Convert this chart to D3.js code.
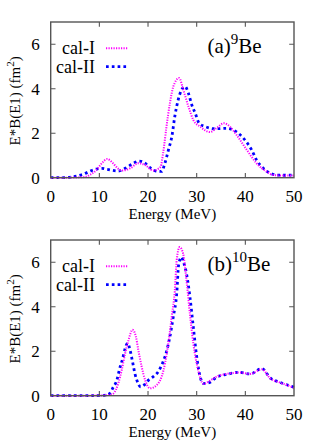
<!DOCTYPE html>
<html>
<head>
<meta charset="utf-8">
<script src="https://cdn.jsdelivr.net/npm/d3@7"></script>
</head>
<body style="margin:0">
<script>
// ----- data (energy in MeV, E*B(E1) in fm^2) -----
const xTicks = [0, 10, 20, 30, 40, 50];
const yTicks = [0, 2, 4, 6];
const seriesNames = ["cal-I", "cal-II"];

// panel (a) 9Be
const be9CalI = [
  [0, 0], [3, 0], [5, 0.01], [7, 0.03], [8, 0.12], [9.4, 0.35], [10.5, 0.65], [11.6, 0.84],
  [12.8, 0.65], [13.8, 0.42], [14.6, 0.32], [16.3, 0.42], [18, 0.65], [19.4, 0.57],
  [21.1, 0.32], [22.1, 0.4], [22.6, 0.5], [23.1, 1.1], [23.8, 2.3], [24.5, 3.35],
  [25.2, 4.1], [26.4, 4.48], [27.25, 3.95], [28.3, 3.2], [29.3, 2.6], [30.7, 2.3],
  [32.7, 2.05], [34.2, 2.25], [35.6, 2.45], [36.8, 2.3], [38.2, 1.92], [40.3, 1.25],
  [42.3, 0.65], [44.4, 0.27], [45.7, 0.12], [47.5, 0.1], [50, 0.1]
];
const be9CalII = [
  [0, 0], [2.6, 0], [5, 0.06], [6.7, 0.16], [8.4, 0.32], [9.6, 0.4], [10.5, 0.42],
  [11.6, 0.38], [13.9, 0.3], [15.3, 0.42], [17, 0.65], [18.1, 0.75], [19.4, 0.65],
  [20.4, 0.45], [21.6, 0.3], [22.8, 0.28], [23.4, 0.6], [24.2, 1.25], [24.9, 1.85],
  [25.5, 2.75], [26.2, 3.5], [26.9, 3.95], [27.6, 4.1], [28.3, 3.8], [29, 3.27],
  [29.7, 2.9], [30.5, 2.45], [31.7, 2.3], [33.8, 2.2], [36.2, 2.22], [38.1, 2.07],
  [39.9, 1.7], [41.3, 1.25], [42.3, 0.8], [43.7, 0.42], [45.1, 0.2], [46.5, 0.12],
  [48, 0.11], [50, 0.12]
];

// panel (b) 10Be
const be10CalI = [
  [0, 0], [6, 0], [10, 0.01], [12, 0.03], [12.9, 0.1], [13.9, 0.56], [14.6, 1.16],
  [15.3, 1.9], [16, 2.5], [16.8, 2.96], [17.5, 2.66], [18, 2.06], [18.7, 1.3],
  [19.4, 0.7], [20.4, 0.33], [21.8, 0.48], [22.8, 0.86], [23.5, 1.46], [24.2, 2.4],
  [24.9, 3.6], [25.5, 4.7], [25.9, 6.1], [26.5, 6.68], [27.2, 6.4], [27.9, 5.2],
  [28.6, 3.7], [29.3, 2.36], [30.3, 1.16], [31.4, 0.53], [32.4, 0.63], [34.1, 0.86],
  [36.2, 0.98], [38.9, 1.04], [41, 0.98], [43.4, 1.19], [45.1, 0.78], [47.1, 0.59],
  [49.5, 0.4], [50, 0.35]
];
const be10CalII = [
  [0, 0], [6, 0], [10, 0.01], [11.8, 0.05], [12.9, 0.4], [13.6, 0.7], [14.1, 1.16],
  [14.8, 1.68], [15.3, 2.13], [15.8, 2.36], [16.3, 2.06], [16.8, 1.55], [17.3, 1.0],
  [17.7, 0.7], [18.5, 0.4], [19.3, 0.5], [20.1, 0.7], [21.1, 0.86], [22.1, 1.08],
  [23.1, 1.53], [23.8, 1.98], [24.5, 2.66], [25.2, 3.56], [25.9, 4.6], [26.3, 5.9],
  [26.9, 6.23], [27.3, 6.0], [27.9, 5.5], [28.6, 4.46], [29.3, 3.1], [30, 1.76],
  [30.7, 0.86], [31.4, 0.55], [32.7, 0.6], [34.1, 0.84], [36.2, 0.96], [38.7, 1.05],
  [41, 0.98], [43.4, 1.22], [45.1, 0.8], [47.1, 0.6], [49.5, 0.42], [50, 0.38]
];

// ----- layout -----
const W = 327, H = 447;
const left = 50.7, plotW = 243.3, plotH = 155.7;
const FRAME = "#555555";
const COLORS = ["#ff00ff", "#0000ff"];
const FONT = "Liberation Serif";

const svg = d3.select("body").append("svg")
  .attr("width", W).attr("height", H);

const x = d3.scaleLinear().domain([0, 50]).range([0, plotW]);
const y = d3.scaleLinear().domain([0, 7]).range([plotH, 0]);

const line = d3.line()
  .x(d => x(d[0]))
  .y(d => y(d[1]))
  .curve(d3.curveMonotoneX);

// plain text helper, sizes kept whole
function label(sel, size) {
  return sel.style("font-family", FONT).style("font-size", size + "px");
}

function drawPanel(top, calI, calII, tag, mass) {
  const g = svg.append("g").attr("transform", `translate(${left},${top})`);

  // curves
  g.append("path").datum(calII)
    .attr("d", line).attr("fill", "none")
    .attr("stroke", COLORS[1]).attr("stroke-width", 2.8)
    .attr("stroke-dasharray", "2.7 3.1");
  g.append("path").datum(calI)
    .attr("d", line).attr("fill", "none")
    .attr("stroke", COLORS[0]).attr("stroke-width", 2)
    .attr("stroke-dasharray", "1.2 1.3");

  // inward ticks on all four sides
  const tk = 4.8;
  g.selectAll(".xt").data(xTicks.slice(1, -1)).enter().append("path")
    .attr("d", d => `M${x(d)},${plotH}v${-tk}M${x(d)},0v${tk}`)
    .attr("stroke", FRAME).attr("stroke-width", 1.1);
  g.selectAll(".yt").data(yTicks.slice(1)).enter().append("path")
    .attr("d", d => `M0,${y(d)}h${tk}M${plotW},${y(d)}h${-tk}`)
    .attr("stroke", FRAME).attr("stroke-width", 1.1);

  // frame
  g.append("rect")
    .attr("width", plotW).attr("height", plotH)
    .attr("fill", "none").attr("stroke", FRAME).attr("stroke-width", 1.4);

  // tick labels
  label(g.selectAll(".xl").data(xTicks).enter().append("text"), 17)
    .attr("x", d => x(d)).attr("y", plotH + 24.5)
    .attr("text-anchor", "middle")
    .text(d => d);
  label(g.selectAll(".yl").data(yTicks).enter().append("text"), 17)
    .attr("x", -11).attr("y", d => y(d) + 6)
    .attr("text-anchor", "end")
    .text(d => d);

  // axis titles
  label(g.append("text"), 15)
    .attr("x", plotW / 2).attr("y", plotH + 41.5)
    .attr("text-anchor", "middle")
    .text("Energy (MeV)");
  const yt = label(g.append("text"), 15)
    .attr("transform", `translate(${20 - left},${plotH / 2 + 1}) rotate(-90)`)
    .attr("text-anchor", "middle");
  yt.append("tspan").text("E*B(E1) (fm");
  label(yt.append("tspan"), 11).attr("dy", -6).text("2");
  yt.append("tspan").attr("dy", 6).text(")");

  // panel label
  const lab = label(g.append("text"), 21)
    .attr("x", 207.5 - left).attr("y", 30.5);
  lab.append("tspan").text(tag);
  label(lab.append("tspan"), 15).attr("dy", -9).text(mass);
  lab.append("tspan").attr("dy", 9).text("Be");

  // legend
  const leg = g.selectAll(".leg").data(seriesNames).enter().append("g")
    .attr("transform", (d, i) => `translate(0,${26.3 + i * 18.4})`);
  label(leg.append("text"), 18)
    .attr("x", 95 - left).attr("y", 6)
    .attr("text-anchor", "end")
    .text(d => d);
  leg.append("line")
    .attr("x1", 106 - left).attr("x2", 128 - left)
    .attr("stroke", (d, i) => COLORS[i])
    .attr("stroke-width", (d, i) => i ? 2.8 : 2)
    .attr("stroke-dasharray", (d, i) => i ? "2.7 3.1" : "1.2 1.3");
}

drawPanel(22, be9CalI, be9CalII, "(a)", "9");
drawPanel(240, be10CalI, be10CalII, "(b)", "10");
</script>
</body>
</html>
